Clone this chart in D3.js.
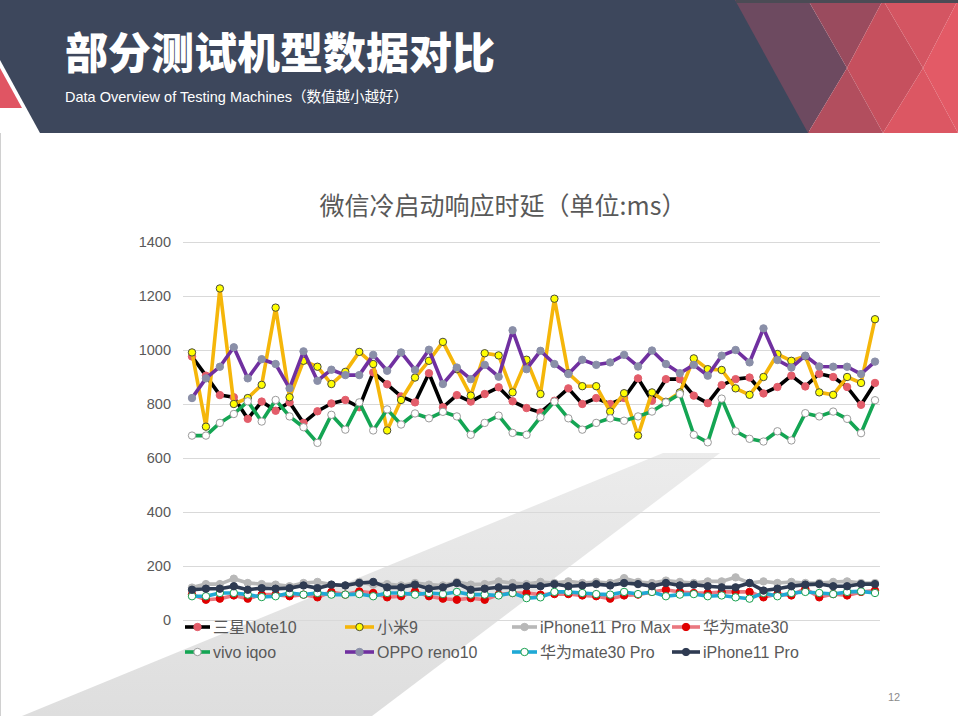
<!DOCTYPE html>
<html><head><meta charset="utf-8">
<script src="https://cdn.jsdelivr.net/npm/d3@7"></script>
<style>
html,body{margin:0;padding:0;background:#fff;}
svg{display:block;}
</style></head>
<body>
<script>
const categories = d3.range(1, 51).map(String);
const yTicks = [0, 200, 400, 600, 800, 1000, 1200, 1400];
const seriesNames = ["三星Note10","小米9","iPhone11 Pro Max","华为mate30","vivo iqoo","OPPO reno10","华为mate30 Pro","iPhone11 Pro"];

const samsung = [976,905,833,825,745,809,775,806,730,773,802,815,788,917,873,828,806,
  914,788,833,809,837,862,810,785,769,812,858,800,822,800,822,895,
  812,892,892,831,803,870,892,898,839,863,905,865,912,900,863,797,878];
const xiaomi = [991,716,1228,800,822,871,1157,825,960,938,874,919,993,948,702,815,898,
  960,1030,929,831,988,980,843,964,837,1190,914,866,866,772,840,683,
  843,808,843,969,929,926,858,834,900,985,960,977,843,834,900,878,1114];
const iphoneProMax = [120,133,133,153,137,133,131,125,137,141,131,128,141,
  131,133,128,137,131,128,141,131,133,143,137,133,
  141,137,143,137,141,137,155,141,137,146,141,137,143,
  143,158,137,143,137,141,137,137,141,143,137,137];
const mate30 = [94,75,79,91,79,94,94,88,94,84,104,94,106,
  100,84,88,106,88,79,75,81,75,94,100,100,
  94,96,96,91,88,79,91,94,104,112,104,100,100,
  104,104,104,84,96,91,116,84,96,91,104,109];
const vivo = [683,683,730,763,810,735,815,754,714,656,760,705,806,702,780,724,765,
  747,771,754,686,730,757,693,686,751,809,747,705,730,747,738,
  754,772,806,837,686,658,820,699,671,661,699,665,766,754,772,745,692,814];
const oppo = [822,895,938,1010,895,966,948,858,995,886,927,907,907,982,923,991,926,
  1001,874,935,892,945,901,1073,929,997,948,911,964,945,954,982,
  939,998,948,914,945,905,979,1000,954,1080,963,935,979,939,938,938,911,957];
const mate30Pro = [88,88,100,100,94,85,88,100,94,100,94,94,96,
  88,100,100,94,100,96,104,94,94,91,100,81,
  84,104,104,100,96,94,104,96,104,88,94,96,88,
  91,84,79,100,88,100,104,100,96,104,106,100];
const iphonePro = [112,116,116,125,112,118,116,118,128,118,131,128,137,
  141,121,121,131,116,121,137,112,116,121,121,125,
  125,133,125,128,133,128,137,133,125,137,128,131,125,
  121,121,137,109,116,125,131,133,125,125,133,133];

const seriesValues = [samsung, xiaomi, iphoneProMax, mate30, vivo, oppo, mate30Pro, iphonePro];
const styles = [
  {line:"#000000", fill:"#e35d6a", stroke:"#e35d6a"},
  {line:"#f5b60a", fill:"#ffff00", stroke:"#4a4a3a"},
  {line:"#b8b8b8", fill:"#b8b8b8", stroke:"#b8b8b8"},
  {line:"#ea7880", fill:"#e00000", stroke:"#e00000"},
  {line:"#14a553", fill:"#ffffff", stroke:"#9a9a9a"},
  {line:"#7030a0", fill:"#8a8fa8", stroke:"#8a8fa8"},
  {line:"#1fa9d6", fill:"#ffffff", stroke:"#18a050"},
  {line:"#2f3b52", fill:"#2f3b52", stroke:"#2f3b52"}
];

const W = 958, H = 716;
const svg = d3.select("body").append("svg").attr("width", W).attr("height", H);
const cjk = "'Noto Sans CJK SC','Noto Sans',sans-serif";
const latin = "'Liberation Sans',Arial,'Noto Sans CJK SC',sans-serif";

// background light diagonal shape
const defs = svg.append("defs");
const g1 = defs.append("linearGradient").attr("id","gr").attr("x1",0).attr("y1",0).attr("x2",0).attr("y2",1);
g1.append("stop").attr("offset","0%").attr("stop-color","#ececec");
g1.append("stop").attr("offset","100%").attr("stop-color","#dedede");
svg.append("polygon").attr("points","663,453 720,453 372,716 22,716").attr("fill","url(#gr)");
svg.append("line").attr("x1",0.5).attr("x2",0.5).attr("y1",133).attr("y2",716).attr("stroke","#d0d0d0");

// header
svg.append("polygon").attr("points","0,68 22,108 0,108").attr("fill","#e05563");
svg.append("polygon").attr("points","0,0 740,0 810,133 40,133 0,60").attr("fill","#3d475c");
const deco = [
  ["735,0 808,0 847,68 808,133", "#6d4a60"],
  ["808,0 883,0 847,68", "#9a4b5e"],
  ["847,68 883,0 923,68 883,133", "#c6505e"],
  ["808,133 847,68 883,133", "#b24e5e"],
  ["883,0 958,0 923,68", "#d45562"],
  ["923,68 958,0 958,133", "#e35a66"],
  ["883,133 923,68 958,133", "#dc5763"]
];
deco.forEach(d => svg.append("polygon").attr("points", d[0]).attr("fill", d[1]));
svg.append("rect").attr("x",736).attr("y",0).attr("width",222).attr("height",3).attr("fill","#4b4b55");

svg.append("text").attr("x",65).attr("y",69).attr("fill","#fff")
  .style("font-family",cjk).style("font-weight","900").style("font-size","43px")
  .text("部分测试机型数据对比");
svg.append("text").attr("x",65).attr("y",102).attr("fill","#fff")
  .style("font-family",latin).style("font-size","14.5px")
  .text("Data Overview of Testing Machines（数值越小越好）");

// chart title
svg.append("text").attr("x",503).attr("y",215).attr("text-anchor","middle").attr("fill","#595959")
  .style("font-family",cjk).style("font-size","25px").text("微信冷启动响应时延（单位:ms）");

const x = d3.scalePoint().domain(categories).range([192, 875]);
const y = d3.scaleLinear().domain([0, 1400]).range([620, 242]);

const yAxis = svg.append("g").attr("transform","translate(183,0)")
  .call(d3.axisLeft(y).tickValues(yTicks).tickFormat(d3.format("d")).tickSize(-697).tickPadding(12));
yAxis.select(".domain").remove();
yAxis.selectAll(".tick line").attr("stroke","#d9d9d9").attr("stroke-width",1);
yAxis.selectAll(".tick text").attr("fill","#595959").style("font-family",latin).style("font-size","14.5px");

const line = d3.line().x((d,i) => x(categories[i])).y(d => y(d));

seriesValues.forEach((vals, si) => {
  const st = styles[si];
  const g = svg.append("g");
  g.append("path").datum(vals).attr("d", line).attr("fill","none")
    .attr("stroke", st.line).attr("stroke-width", 3.6).attr("stroke-linejoin","round");
  g.selectAll("circle").data(vals).join("circle")
    .attr("cx",(d,i) => x(categories[i])).attr("cy", d => y(d)).attr("r", 3.7)
    .attr("fill", st.fill).attr("stroke", st.stroke).attr("stroke-width", 1);
});

// legend
const legX = [185, 345, 512, 672];
const legY = [627, 652];
const textOff = [28, 32, 28, 31];
seriesNames.forEach((name, si) => {
  const col = si % 4, row = Math.floor(si / 4);
  const st = styles[si];
  const lx = legX[col], ly = legY[row];
  const sw = textOff[col] - 3;
  const g = svg.append("g");
  g.append("line").attr("x1", lx).attr("x2", lx + sw).attr("y1", ly).attr("y2", ly)
    .attr("stroke", st.line).attr("stroke-width", 3.6);
  g.append("circle").attr("cx", lx + sw/2).attr("cy", ly).attr("r", 3.7)
    .attr("fill", st.fill).attr("stroke", st.stroke).attr("stroke-width", 1);
  g.append("text").attr("x", lx + textOff[col]).attr("y", ly + 5.5).attr("fill","#595959")
    .style("font-family", latin).style("font-size","16px").text(name);
});

svg.append("text").attr("x",888).attr("y",701).attr("fill","#8c8c8c")
  .style("font-family",latin).style("font-size","11px").text("12");
</script>
</body></html>
